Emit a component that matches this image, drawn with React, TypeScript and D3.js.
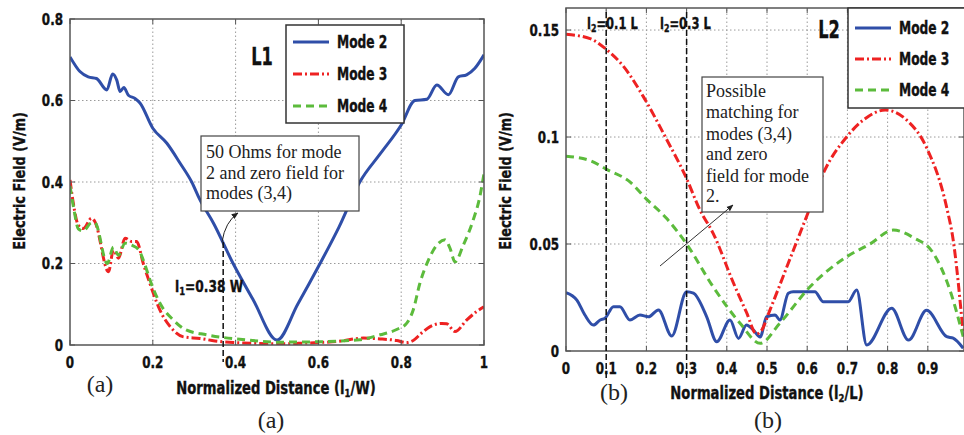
import React from 'react';
import * as d3 from 'd3';

// ---------- data ----------
const modeNames = ['Mode 2', 'Mode 3', 'Mode 4'];
const modeColors = ['#2f4ea8', '#ee2222', '#5cbb3c'];
const modeDash = ['', '9,3,2,3', '8,5'];

// Panel (a): L1
const l1Mode2X = [0, 0.024, 0.044, 0.064, 0.089, 0.103, 0.113, 0.121, 0.13, 0.141, 0.157, 0.169, 0.2, 0.234, 0.266, 0.294, 0.314, 0.346, 0.394, 0.443, 0.5, 0.55, 0.604, 0.65, 0.7, 0.75, 0.8, 0.833, 0.862, 0.886, 0.914, 0.938, 0.958, 0.978, 1.0];
const l1Mode2Y = [0.707, 0.671, 0.658, 0.654, 0.626, 0.665, 0.65, 0.622, 0.632, 0.613, 0.605, 0.594, 0.532, 0.495, 0.446, 0.4, 0.356, 0.3, 0.2, 0.11, 0.012, 0.1, 0.2, 0.29, 0.4, 0.47, 0.54, 0.6, 0.603, 0.638, 0.614, 0.658, 0.663, 0.679, 0.712];
const l1Mode3X = [0, 0.008, 0.02, 0.032, 0.052, 0.06, 0.093, 0.105, 0.117, 0.133, 0.149, 0.161, 0.177, 0.193, 0.217, 0.242, 0.274, 0.314, 0.35, 0.4, 0.45, 0.5, 0.55, 0.6, 0.65, 0.708, 0.749, 0.789, 0.813, 0.829, 0.85, 0.87, 0.898, 0.91, 0.93, 0.958, 0.982, 1.0];
const l1Mode3Y = [0.405, 0.348, 0.294, 0.286, 0.311, 0.303, 0.18, 0.233, 0.213, 0.262, 0.254, 0.254, 0.2, 0.151, 0.086, 0.045, 0.02, 0.016, 0.01, 0.006, 0.004, 0.003, 0.004, 0.006, 0.009, 0.017, 0.015, 0.011, 0.006, 0.011, 0.03, 0.045, 0.053, 0.052, 0.033, 0.061, 0.082, 0.094];
const l1Mode4X = [0, 0.01, 0.02, 0.032, 0.052, 0.06, 0.09, 0.105, 0.117, 0.133, 0.149, 0.165, 0.18, 0.193, 0.217, 0.25, 0.28, 0.33, 0.43, 0.5, 0.6, 0.7, 0.749, 0.789, 0.813, 0.829, 0.845, 0.866, 0.886, 0.906, 0.918, 0.93, 0.95, 0.974, 0.99, 1.0];
const l1Mode4Y = [0.39, 0.33, 0.285, 0.28, 0.3, 0.3, 0.2, 0.24, 0.22, 0.25, 0.245, 0.235, 0.2, 0.16, 0.103, 0.061, 0.037, 0.025, 0.012, 0.007, 0.008, 0.013, 0.025, 0.038, 0.053, 0.086, 0.151, 0.209, 0.245, 0.258, 0.237, 0.204, 0.245, 0.307, 0.364, 0.421];
const l1XTicks = [0, 0.2, 0.4, 0.6, 0.8, 1];
const l1YTicks = [0, 0.2, 0.4, 0.6, 0.8];
const l1Marker = 0.37;

// Panel (b): L2
const l2Mode2X = [0, 0.027, 0.047, 0.068, 0.085, 0.097, 0.118, 0.134, 0.159, 0.184, 0.205, 0.23, 0.263, 0.3, 0.317, 0.35, 0.375, 0.408, 0.429, 0.449, 0.465, 0.483, 0.499, 0.52, 0.532, 0.553, 0.565, 0.619, 0.64, 0.702, 0.723, 0.748, 0.81, 0.852, 0.897, 0.947, 0.963, 0.988];
const l2Mode2Y = [0.0273, 0.0238, 0.0168, 0.0121, 0.0145, 0.0153, 0.0207, 0.0207, 0.0145, 0.0168, 0.016, 0.0192, 0.007, 0.0277, 0.027, 0.016, 0.0043, 0.0145, 0.0059, 0.0121, 0.01, 0.0065, 0.016, 0.0168, 0.0145, 0.027, 0.0277, 0.0277, 0.023, 0.023, 0.0285, 0.0028, 0.02, 0.0051, 0.019, 0.0067, 0.006, 0.0013];
const l2Mode3X = [0, 0.06, 0.1, 0.143, 0.192, 0.25, 0.299, 0.333, 0.366, 0.416, 0.449, 0.474, 0.487, 0.507, 0.557, 0.607, 0.64, 0.698, 0.74, 0.794, 0.847, 0.897, 0.947, 0.963, 0.988];
const l2Mode3Y = [0.148, 0.146, 0.141, 0.133, 0.119, 0.099, 0.081, 0.066, 0.055, 0.032, 0.018, 0.008, 0.0098, 0.019, 0.043, 0.067, 0.083, 0.1, 0.108, 0.1126, 0.108, 0.095, 0.067, 0.052, 0.008];
const l2Mode4X = [0, 0.06, 0.1, 0.159, 0.2, 0.25, 0.3, 0.366, 0.433, 0.483, 0.532, 0.607, 0.698, 0.756, 0.814, 0.864, 0.914, 0.955, 0.988];
const l2Mode4Y = [0.091, 0.089, 0.085, 0.079, 0.071, 0.062, 0.05, 0.03, 0.013, 0.0036, 0.013, 0.03, 0.044, 0.05, 0.0565, 0.053, 0.0456, 0.0285, 0.0067];
const l2XTicks = [0, 0.1, 0.2, 0.3, 0.4, 0.5, 0.6, 0.7, 0.8, 0.9];
const l2YTicks = [0, 0.05, 0.1, 0.15];
const l2Markers = [0.1, 0.3];

const BOLD = "'Liberation Sans Narrow','DejaVu Sans Condensed','Arial Narrow',sans-serif";
const SERIF = "'Liberation Serif','DejaVu Serif',serif";

type Series = { x: number[]; y: number[] };

function zip(s: Series) {
  return s.x.map((x, i) => [x, s.y[i]] as [number, number]);
}

// Bold, horizontally compressed text (matches the heavy narrow font of the original)
function NText(props: { x: number; y: number; sx?: number; size?: number; anchor?: string; rotate?: number; children: React.ReactNode }) {
  const { x, y, sx = 0.83, size = 16, anchor = 'start', rotate = 0, children } = props;
  return (
    <g transform={`translate(${x},${y}) rotate(${rotate}) scale(${sx},1)`}>
      <text x={0} y={0} textAnchor={anchor} dominantBaseline="central" fontFamily={BOLD} fontWeight="bold"
        fontSize={size} fill="#111" stroke="#111" strokeWidth={0.35}>{children}</text>
    </g>
  );
}

function Panel(props: {
  id: string;
  xDomain: [number, number];
  yDomain: [number, number];
  xRange: [number, number];
  yRange: [number, number];
  series: Series[];
  xTicks: number[];
  yTicks: number[];
  xTickY: number;
  yTickX: number;
}) {
  const { id, xDomain, yDomain, xRange, yRange, series, xTicks, yTicks, xTickY, yTickX } = props;
  const x = d3.scaleLinear().domain(xDomain).range(xRange);
  const y = d3.scaleLinear().domain(yDomain).range(yRange);
  const line = d3.line<[number, number]>().x(d => x(d[0])).y(d => y(d[1])).curve(d3.curveMonotoneX);
  const [x0, x1] = xRange;
  const [yb, yt] = yRange;
  const fmt = (v: number) => String(+v.toFixed(2));
  return (
    <g>
      <defs>
        <clipPath id={'clip' + id}>
          <rect x={x0} y={yt} width={x1 - x0} height={yb - yt} />
        </clipPath>
      </defs>
      {xTicks.filter(t => t > xDomain[0] && t < xDomain[1]).map(t => (
        <line key={'gx' + t} x1={x(t)} x2={x(t)} y1={yb} y2={yt} stroke="#9a9a9a" strokeWidth={1} strokeDasharray="1.5,2.5" />
      ))}
      {yTicks.filter(t => t > yDomain[0] && t < yDomain[1]).map(t => (
        <line key={'gy' + t} x1={x0} x2={x1} y1={y(t)} y2={y(t)} stroke="#9a9a9a" strokeWidth={1} strokeDasharray="1.5,2.5" />
      ))}
      <g clipPath={`url(#clip${id})`}>
        {series.map((s, i) => (
          <path key={i} d={line(zip(s)) || ''} fill="none" stroke={modeColors[i]} strokeWidth={3}
            strokeDasharray={modeDash[i] || undefined} strokeLinejoin="round" />
        ))}
      </g>
      <rect x={x0} y={yt} width={x1 - x0} height={yb - yt} fill="none" stroke="#555" strokeWidth={1.5} />
      {xTicks.map(t => (
        <g key={'tx' + t}>
          <line x1={x(t)} x2={x(t)} y1={yb} y2={yb - 5} stroke="#555" />
          <line x1={x(t)} x2={x(t)} y1={yt} y2={yt + 5} stroke="#555" />
          <NText x={x(t)} y={xTickY} anchor="middle">{fmt(t)}</NText>
        </g>
      ))}
      {yTicks.map(t => (
        <g key={'ty' + t}>
          <line x1={x0} x2={x0 + 5} y1={y(t)} y2={y(t)} stroke="#555" />
          <line x1={x1} x2={x1 - 5} y1={y(t)} y2={y(t)} stroke="#555" />
          <NText x={yTickX} y={y(t)} anchor="end">{fmt(t)}</NText>
        </g>
      ))}
    </g>
  );
}

function Legend(props: { x: number; y: number; w: number; h: number; rowY: number[] }) {
  const { x, y, w, h, rowY } = props;
  return (
    <g>
      <rect x={x} y={y} width={w} height={h} fill="#fff" stroke="#333" strokeWidth={1.5} />
      {modeNames.map((m, i) => (
        <g key={m}>
          <line x1={x + 7} x2={x + 43} y1={rowY[i]} y2={rowY[i]} stroke={modeColors[i]} strokeWidth={3} strokeDasharray={modeDash[i] || undefined} />
          <NText x={x + 51} y={rowY[i]} size={17} sx={0.8}>{m}</NText>
        </g>
      ))}
    </g>
  );
}

export default function App() {
  const lx = d3.scaleLinear().domain([0, 1]).range([70, 484]);
  const rx = d3.scaleLinear().domain([0, 0.99]).range([566, 964]);
  return (
    <svg width={964} height={435} style={{ position: 'absolute', left: 0, top: 0, background: '#fff' }}>
      <defs>
        <marker id="arr" viewBox="0 0 10 10" refX="9" refY="5" markerWidth="7" markerHeight="7" orient="auto">
          <path d="M0,1 L10,5 L0,9 Z" fill="#222" />
        </marker>
      </defs>
      <rect x={0} y={0} width={964} height={435} fill="#fff" />

      {/* Panel (a) */}
      <Panel id="a" xDomain={[0, 1]} yDomain={[0, 0.8]} xRange={[70, 484]} yRange={[345, 19]}
        series={[{ x: l1Mode2X, y: l1Mode2Y }, { x: l1Mode3X, y: l1Mode3Y }, { x: l1Mode4X, y: l1Mode4Y }]}
        xTicks={l1XTicks} yTicks={l1YTicks} xTickY={362} yTickX={63} />
      <NText x={262} y={57} size={24} sx={0.75} anchor="middle">L1</NText>
      <Legend x={286} y={25} w={118} h={98} rowY={[42, 74, 106]} />
      <rect x={201} y={136} width={158} height={75} fill="#fff" stroke="#444" strokeWidth={1.2} />
      <g fontFamily={SERIF} fontSize={18} fill="#222">
        <text x={206} y={158}>50 Ohms for mode</text>
        <text x={206} y={179}>2 and zero field for</text>
        <text x={206} y={199}>modes (3,4)</text>
      </g>
      <line x1={lx(l1Marker)} x2={lx(l1Marker)} y1={242} y2={362} stroke="#111" strokeWidth={1.5} strokeDasharray="6,3" />
      <path d="M222,242 Q225,222 238,213" fill="none" stroke="#222" strokeWidth={1} markerEnd="url(#arr)" />
      <NText x={175} y={286} sx={0.85}>
        l<tspan dy={5} fontSize={11}>1</tspan><tspan dy={-5}>=0.38 W</tspan>
      </NText>
      <NText x={19} y={181} rotate={-90} size={15} sx={0.95} anchor="middle">Electric Field (V/m)</NText>
      <NText x={276} y={388} size={17} sx={0.86} anchor="middle">
        Normalized Distance (l<tspan dy={5} fontSize={11}>1</tspan><tspan dy={-5}>/W)</tspan>
      </NText>
      <text x={100} y={384} textAnchor="middle" dominantBaseline="central" fontFamily={SERIF} fontSize={24} fill="#222">(a)</text>
      <text x={271} y={420} textAnchor="middle" dominantBaseline="central" fontFamily={SERIF} fontSize={24} fill="#222">(a)</text>

      {/* Panel (b) */}
      <Panel id="b" xDomain={[0, 0.99]} yDomain={[0, 0.1603]} xRange={[566, 964]} yRange={[351, 8]}
        series={[{ x: l2Mode2X, y: l2Mode2Y }, { x: l2Mode3X, y: l2Mode3Y }, { x: l2Mode4X, y: l2Mode4Y }]}
        xTicks={l2XTicks} yTicks={l2YTicks} xTickY={368} yTickX={559} />
      {l2Markers.map(m => (
        <line key={m} x1={rx(m)} x2={rx(m)} y1={12} y2={378} stroke="#111" strokeWidth={1.5} strokeDasharray="6,3" />
      ))}
      <NText x={587} y={23} sx={0.8}>
        l<tspan dy={5} fontSize={11}>2</tspan><tspan dy={-5}>=0.1 L</tspan>
      </NText>
      <NText x={660} y={23} sx={0.8}>
        l<tspan dy={5} fontSize={11}>2</tspan><tspan dy={-5}>=0.3 L</tspan>
      </NText>
      <NText x={829} y={30} size={24} sx={0.75} anchor="middle">L2</NText>
      <Legend x={848} y={8} w={122} h={100} rowY={[28, 59, 90]} />
      <rect x={702} y={77} width={121} height={135} fill="#fff" stroke="#444" strokeWidth={1.2} />
      <g fontFamily={SERIF} fontSize={18} fill="#222">
        <text x={706} y={97}>Possible</text>
        <text x={706} y={118}>matching for</text>
        <text x={706} y={140}>modes (3,4)</text>
        <text x={706} y={160}>and zero</text>
        <text x={706} y={182}>field for mode</text>
        <text x={706} y={202}>2.</text>
      </g>
      <line x1={660} y1={266} x2={733} y2={205} stroke="#333" strokeWidth={1} markerEnd="url(#arr)" />
      <NText x={505} y={181} rotate={-90} size={15} sx={0.95} anchor="middle">Electric Field (V/m)</NText>
      <NText x={767} y={393} size={17} sx={0.86} anchor="middle">
        Normalized Distance (l<tspan dy={5} fontSize={11}>2</tspan><tspan dy={-5}>/L)</tspan>
      </NText>
      <text x={614} y={392} textAnchor="middle" dominantBaseline="central" fontFamily={SERIF} fontSize={24} fill="#222">(b)</text>
      <text x={768} y={420} textAnchor="middle" dominantBaseline="central" fontFamily={SERIF} fontSize={24} fill="#222">(b)</text>
    </svg>
  );
}
